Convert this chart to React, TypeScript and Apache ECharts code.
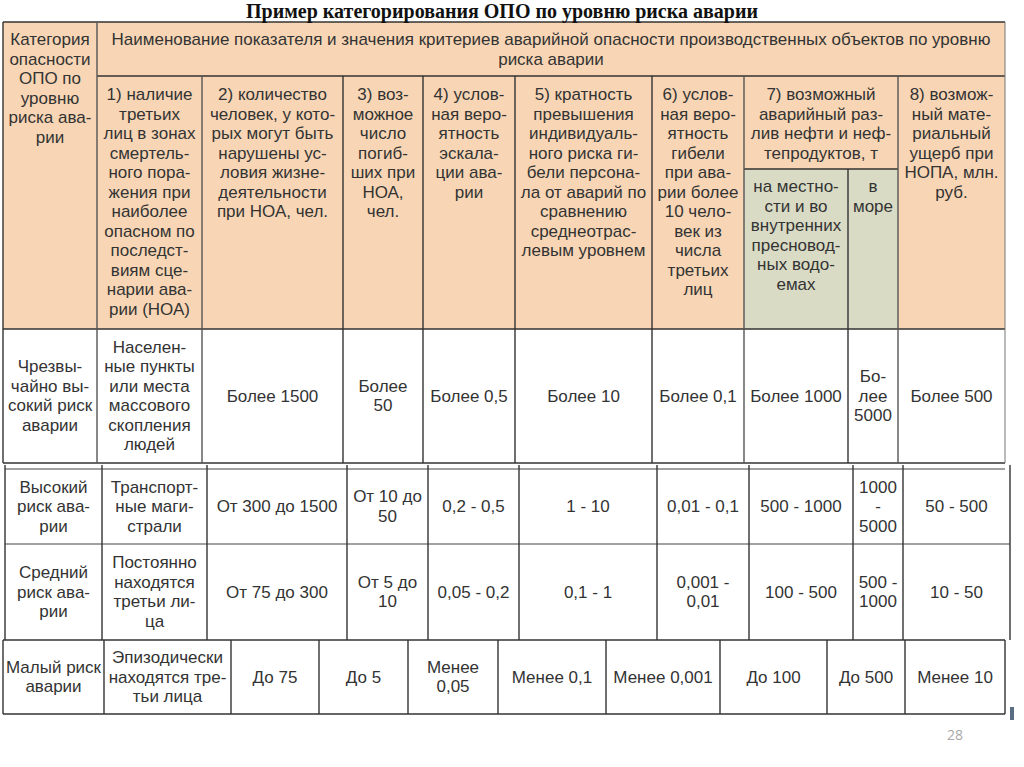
import React, { useEffect, useRef } from "react";
import * as echarts from "echarts";

// ---------- DATA ----------
const title = "Пример категорирования ОПО по уровню риска аварии";
const headerCategory = "Категория\nопасности\nОПО по\nуровню\nриска ава-\nрии";
const headerMain =
  "Наименование показателя и значения критериев аварийной опасности производственных объектов по уровню\nриска аварии";
const indicatorHeaders = [
  "1) наличие\nтретьих\nлиц в зонах\nсмертель-\nного пора-\nжения при\nнаиболее\nопасном по\nпоследст-\nвиям сце-\nнарии ава-\nрии (НОА)",
  "2) количество\nчеловек, у кото-\nрых могут быть\nнарушены ус-\nловия жизне-\nдеятельности\nпри НОА, чел.",
  "3) воз-\nможное\nчисло\nпогиб-\nших при\nНОА,\nчел.",
  "4) услов-\nная веро-\nятность\nэскала-\nции ава-\nрии",
  "5) кратность\nпревышения\nиндивидуаль-\nного риска ги-\nбели персона-\nла от аварий по\nсравнению\nсреднеотрас-\nлевым уровнем",
  "6) услов-\nная веро-\nятность\nгибели\nпри ава-\nрии более\n10 чело-\nвек из\nчисла\nтретьих\nлиц",
  "7) возможный\nаварийный раз-\nлив нефти и неф-\nтепродуктов, т",
  "8) возмож-\nный мате-\nриальный\nущерб при\nНОПА, млн.\nруб.",
];
const spillSubHeaders = ["на местно-\nсти и во\nвнутренних\nпресновод-\nных водо-\nемах", "в\nморе"];

const riskCategories = [
  "Чрезвы-\nчайно вы-\nсокий риск\nаварии",
  "Высокий\nриск ава-\nрии",
  "Средний\nриск ава-\nрии",
  "Малый риск\nаварии",
];
const thirdParties = [
  "Населен-\nные пункты\nили места\nмассового\nскопления\nлюдей",
  "Транспорт-\nные маги-\nстрали",
  "Постоянно\nнаходятся\nтретьи ли-\nца",
  "Эпизодически\nнаходятся тре-\nтьи лица",
];
const peopleAffected = ["Более 1500", "От 300 до 1500", "От 75 до 300", "До 75"];
const deaths = ["Более\n50", "От 10 до\n50", "От 5 до\n10", "До 5"];
const escalation = ["Более 0,5", "0,2 - 0,5", "0,05 - 0,2", "Менее\n0,05"];
const riskMultiple = ["Более 10", "1 - 10", "0,1 - 1", "Менее 0,1"];
const deathProbability = ["Более 0,1", "0,01 - 0,1", "0,001 -\n0,01", "Менее 0,001"];
const spillLand = ["Более 1000", "500 - 1000", "100 - 500", "До 100"];
const spillSea = ["Бо-\nлее\n5000", "1000\n-\n5000", "500 -\n1000", "До 500"];
const damage = ["Более 500", "50 - 500", "10 - 50", "Менее 10"];
const pageNumber = "28";

const valueColumns = [
  riskCategories,
  thirdParties,
  peopleAffected,
  deaths,
  escalation,
  riskMultiple,
  deathProbability,
  spillLand,
  spillSea,
  damage,
];

// ---------- LAYOUT ----------
const topCols = [3, 97, 202, 343, 423, 515, 652, 744, 848, 898, 1005];
const midCols = [5, 102, 207, 347, 428, 519, 657, 749, 853, 903, 1010];
const botCols = [3, 104, 231, 319, 408, 498, 606, 720, 827, 905, 1005];
const topRows = { top: 22, headMid: 76, sub: 169, headBot: 329, rowBot: 463 };
const midRows = [469, 544, 640];
const botRows = [640, 714];

const FONT = "'Liberation Sans', Arial, sans-serif";
const TEXT = "#333333";
const LINE = "#333333";
const PEACH = "#f8d6b5";
const GREEN = "#dadbc5";
const FS = 17;
const LH = 19.5;

function line(x1: number, y1: number, x2: number, y2: number, stroke = LINE, w = 1.4) {
  return { type: "line", z: 2, shape: { x1, y1, x2, y2 }, style: { stroke, lineWidth: w } };
}
function txtMid(x0: number, x1: number, y0: number, y1: number, text: string) {
  return {
    type: "text",
    z: 3,
    style: {
      text,
      x: (x0 + x1) / 2,
      y: (y0 + y1) / 2,
      align: "center",
      verticalAlign: "middle",
      fontFamily: FONT,
      fontSize: FS,
      lineHeight: LH,
      fill: TEXT,
    },
  };
}
function txtTop(x0: number, x1: number, y: number, text: string) {
  return {
    type: "text",
    z: 3,
    style: {
      text,
      x: (x0 + x1) / 2,
      y,
      align: "center",
      verticalAlign: "top",
      fontFamily: FONT,
      fontSize: FS,
      lineHeight: LH,
      fill: TEXT,
    },
  };
}

function buildGraphics() {
  const g: any[] = [];
  const L = topCols[0];
  const R = topCols[10];
  // backgrounds
  g.push({ type: "rect", z: 1, shape: { x: L, y: topRows.top, width: R - L, height: topRows.headBot - topRows.top }, style: { fill: PEACH } });
  g.push({ type: "rect", z: 1, shape: { x: topCols[7], y: topRows.sub, width: topCols[9] - topCols[7], height: topRows.headBot - topRows.sub }, style: { fill: GREEN } });

  // title
  g.push({
    type: "text",
    z: 3,
    style: {
      text: title,
      x: 502,
      y: 11,
      align: "center",
      verticalAlign: "middle",
      fontFamily: "'Liberation Serif', 'Times New Roman', serif",
      fontWeight: "bold",
      fontSize: 20,
      lineHeight: 20,
      fill: "#111111",
    },
  });

  // top table lines
  g.push(line(L, topRows.top, R, topRows.top));
  g.push(line(topCols[1], topRows.headMid, R, topRows.headMid));
  g.push(line(topCols[7], topRows.sub, topCols[9], topRows.sub));
  g.push(line(L, topRows.headBot, R, topRows.headBot));
  g.push(line(L, topRows.rowBot, R, topRows.rowBot));
  g.push(line(L, topRows.top, L, topRows.rowBot));
  g.push(line(R, topRows.top, R, topRows.rowBot, "#777", 1));
  g.push(line(topCols[1], topRows.top, topCols[1], topRows.rowBot, "#555"));
  [2, 3, 4, 5, 6, 7, 9].forEach((i) => g.push(line(topCols[i], topRows.headMid, topCols[i], topRows.rowBot, i === 2 || i === 7 || i === 9 ? "#555" : LINE)));
  g.push(line(topCols[8], topRows.sub, topCols[8], topRows.rowBot));

  // header texts
  g.push(txtTop(topCols[0], topCols[1], 30, headerCategory));
  g.push(txtTop(topCols[1], R, 30, headerMain));
  indicatorHeaders.forEach((h, i) => {
    let a = i + 1;
    let b = i + 2;
    if (i === 6) { a = 7; b = 9; }
    if (i === 7) { a = 9; b = 10; }
    g.push(txtTop(topCols[a], topCols[b], 85, h));
  });
  spillSubHeaders.forEach((h, i) => g.push(txtTop(topCols[7 + i], topCols[8 + i], 177, h)));

  // row 1 (top table)
  valueColumns.forEach((col, j) => g.push(txtMid(topCols[j], topCols[j + 1], topRows.headBot, topRows.rowBot, col[0])));

  // middle table (rows 2,3)
  const mL = midCols[0];
  const mR = midCols[10];
  g.push(line(mL, midRows[0], 1005, midRows[0], "#444", 1.2));
  g.push(line(mL, midRows[1], mR, midRows[1], "#444", 1.2));
  midCols.forEach((x) => g.push(line(x, 465, x, midRows[2], "#333", 1.4)));
  [1, 2].forEach((r) => {
    valueColumns.forEach((col, j) => g.push(txtMid(midCols[j], midCols[j + 1], midRows[r - 1], midRows[r], col[r])));
  });

  // bottom table (row 4)
  g.push(line(botCols[0], botRows[0], botCols[10], botRows[0], "#333", 1.6));
  g.push(line(botCols[0], botRows[1], botCols[10], botRows[1], "#333", 1.6));
  botCols.forEach((x) => g.push(line(x, botRows[0], x, botRows[1], "#333", 1.4)));
  valueColumns.forEach((col, j) => g.push(txtMid(botCols[j], botCols[j + 1], botRows[0], botRows[1], col[3])));

  // small marker and page number
  g.push({ type: "rect", z: 2, shape: { x: 1010, y: 707, width: 4, height: 13 }, style: { fill: "#5b6d82" } });
  g.push({
    type: "text",
    z: 3,
    style: { text: pageNumber, x: 955, y: 734, align: "center", verticalAlign: "middle", fontFamily: "'Open Sans', sans-serif", fontSize: 14, fill: "#a8a8a8" },
  });
  return g;
}

export default function App() {
  const ref = useRef<HTMLDivElement>(null);
  useEffect(() => {
    if (!ref.current) return;
    const chart = echarts.init(ref.current, undefined, { renderer: "svg" });
    chart.setOption({
      animation: false,
      backgroundColor: "#ffffff",
      graphic: { elements: buildGraphics() },
    });
    return () => chart.dispose();
  }, []);
  return <div ref={ref} style={{ position: "fixed", left: 0, top: 0, width: 1024, height: 767 }} />;
}
